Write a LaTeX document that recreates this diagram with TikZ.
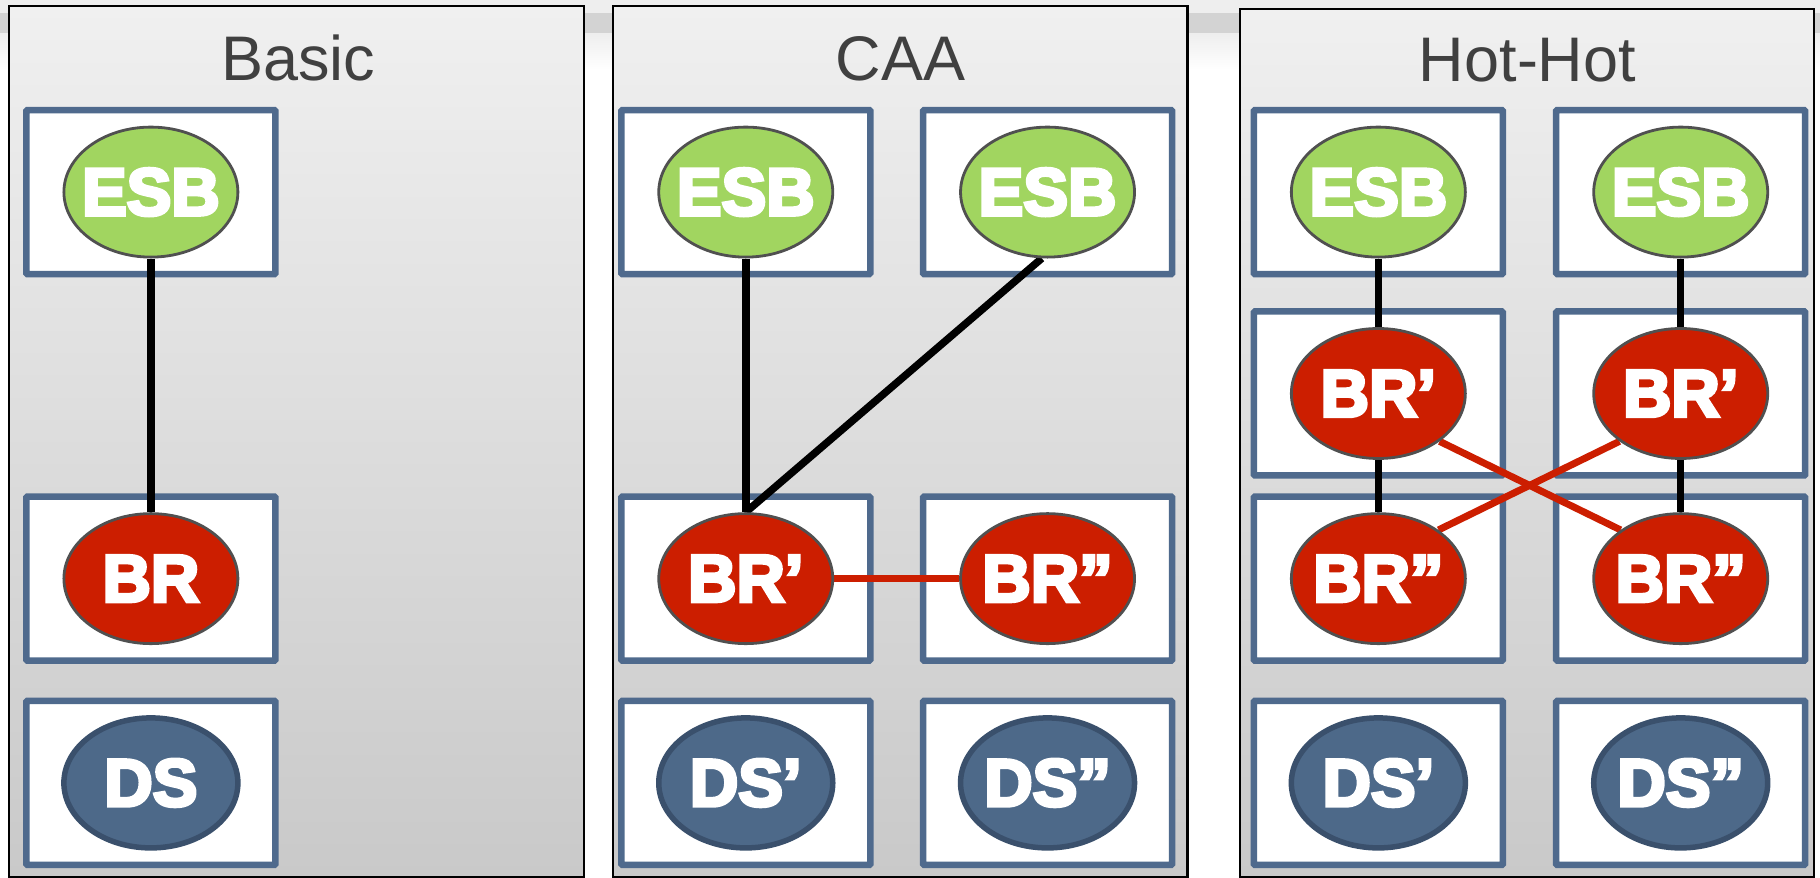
\documentclass[tikz,border=0pt]{standalone}
\usepackage{fontspec}
\setmainfont{Liberation Sans}
\newfontfamily\heavyfont{Liberation Sans}[UprightFont={* Bold},FakeBold=5]
\usetikzlibrary{shapes.geometric}
\definecolor{esbgreen}{HTML}{A1D560}
\definecolor{brred}{HTML}{CC1E00}
\definecolor{dsblue}{HTML}{4D6989}
\definecolor{dsedge}{HTML}{3A506C}
\definecolor{boxedge}{HTML}{4F6A8D}
\definecolor{ovaledge}{HTML}{505050}
\definecolor{titlegray}{HTML}{404040}
\definecolor{paneltop}{HTML}{F0F0F0}
\definecolor{panelbot}{HTML}{C9C9C9}
\definecolor{bgtop}{HTML}{EEEEEE}
\definecolor{bgbar}{HTML}{D3D3D3}
\pgfdeclarelayer{bg}
\pgfdeclarelayer{mid}
\pgfsetlayers{bg,mid,main}
\newcommand{\lbl}[1]{\makebox[0pt][c]{#1}}
\begin{document}
\begin{tikzpicture}[x=1.16071pt,y=-1.16071pt,
  srv/.style={draw=boxedge, line width=6.5pt, fill=white, minimum width=249pt, minimum height=164pt, inner sep=0pt, rounded corners=1pt},
  oval/.style={ellipse, minimum width=174pt, minimum height=130pt, inner sep=0pt, text=white, font=\heavyfont\fontsize{67}{67}\selectfont},
  esb/.style={oval, fill=esbgreen, draw=ovaledge, line width=2.8pt},
  br/.style={oval, fill=brred, draw=ovaledge, line width=2.8pt},
  ds/.style={oval, fill=dsblue, draw=dsedge, line width=5.5pt},
  link/.style={line width=7.5pt, black},
  redlink/.style={line width=7pt, brred},
  ttl/.style={anchor=base, text=titlegray, inner sep=0pt, font=\fontsize{63}{63}\selectfont},
  panel/.style={draw=black, line width=2.2pt, top color=paneltop, bottom color=panelbot}]
\useasboundingbox (0,0) rectangle (1568,756);
\begin{pgfonlayer}{bg}
  \fill[white] (0,0) rectangle (1568,756);
  \fill[bgtop] (0,0) rectangle (1568,11);
  \fill[bgbar] (0,11) rectangle (1568,28.5);
  \shade[top color=bgtop, bottom color=white] (0,28.5) rectangle (1568,60);
  \draw[panel] (8,5.5) rectangle (503,755.5);
  \draw[panel] (528,5.5) rectangle (1023,755.5);
  \draw[panel] (1068,7.5) rectangle (1563,755.5);
  % server boxes
  \node[srv] (sA1) at (130,165.5) {};
  \node[srv] (sA2) at (130,498.5) {};
  \node[srv] (sA3) at (130,674.5) {};
  \node[srv] (sC1) at (642.5,165.5) {};
  \node[srv] (sC2) at (902.5,165.5) {};
  \node[srv] (sC3) at (642.5,498.5) {};
  \node[srv] (sC4) at (902.5,498.5) {};
  \node[srv] (sC5) at (642.5,674.5) {};
  \node[srv] (sC6) at (902.5,674.5) {};
  \node[srv] (sH1) at (1187.5,165.5) {};
  \node[srv] (sH2) at (1448,165.5) {};
  \node[srv] (sH3) at (1187.5,339) {};
  \node[srv] (sH4) at (1448,339) {};
  \node[srv] (sH5) at (1187.5,498.5) {};
  \node[srv] (sH6) at (1448,498.5) {};
  \node[srv] (sH7) at (1187.5,674.5) {};
  \node[srv] (sH8) at (1448,674.5) {};
\end{pgfonlayer}
% titles
\node[ttl] (tA) at (257,69) {Basic};
\node[ttl] (tC) at (776,69) {CAA};
\node[ttl] (tH) at (1316,70.5) {Hot-Hot};
% Basic
\node[esb] (aE) at (130,165.5) {\lbl{ESB}};
\node[br]  (aB) at (130,498.5) {\lbl{BR}};
\node[ds]  (aD) at (130,674.5) {\lbl{DS}};
% CAA
\node[esb] (cE1) at (642.5,165.5) {\lbl{ESB}};
\node[esb] (cE2) at (902.5,165.5) {\lbl{ESB}};
\node[br]  (cB1) at (642.5,498.5) {\lbl{BR’}};
\node[br]  (cB2) at (902.5,498.5) {\lbl{BR”}};
\node[ds]  (cD1) at (642.5,674.5) {\lbl{DS’}};
\node[ds]  (cD2) at (902.5,674.5) {\lbl{DS”}};
% Hot-Hot
\node[esb] (hE1) at (1187.5,165.5) {\lbl{ESB}};
\node[esb] (hE2) at (1448,165.5) {\lbl{ESB}};
\node[br]  (hB1) at (1187.5,339) {\lbl{BR’}};
\node[br]  (hB2) at (1448,339) {\lbl{BR’}};
\node[br]  (hC1) at (1187.5,498.5) {\lbl{BR”}};
\node[br]  (hC2) at (1448,498.5) {\lbl{BR”}};
\node[ds]  (hD1) at (1187.5,674.5) {\lbl{DS’}};
\node[ds]  (hD2) at (1448,674.5) {\lbl{DS”}};
\begin{pgfonlayer}{mid}
  \draw[link] (aE.south) -- (aB.north);
  \draw[link] (cE1.south) -- (cB1.north);
  \draw[link] (cE2.-95) -- (cB1.north);
  \draw[redlink] (cB1.east) -- (cB2.west);
  \draw[link] (hE1.south) -- (hB1.north);
  \draw[link] (hE2.south) -- (hB2.north);
  \draw[link] (hB1.south) -- (hC1.north);
  \draw[link] (hB2.south) -- (hC2.north);
  \draw[redlink] (hB1.-38) -- (hC2.141);
  \draw[redlink] (hB2.-142) -- (hC1.39);
\end{pgfonlayer}
\end{tikzpicture}
\end{document}
